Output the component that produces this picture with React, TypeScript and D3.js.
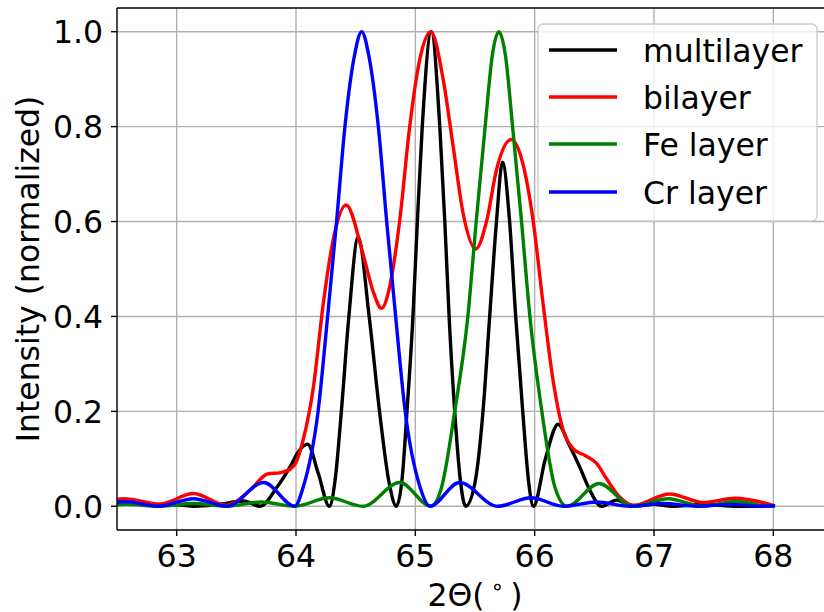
import React from "react";
import * as d3 from "d3";

const xTicks = [63, 64, 65, 66, 67, 68];
const yTicks = [0, 0.2, 0.4, 0.6, 0.8, 1.0];
const yTickLabels = ["0.0", "0.2", "0.4", "0.6", "0.8", "1.0"];
const seriesNames = ["multilayer", "bilayer", "Fe layer", "Cr layer"];
const seriesColors = ["#000000", "#ff0000", "#008000", "#0000ff"];

const multilayerX = [62.5, 62.62, 62.85, 63.0, 63.15, 63.35, 63.56, 63.7, 63.84, 63.95, 64.02, 64.097, 64.187, 64.279, 64.33, 64.38, 64.443, 64.521, 64.613, 64.7, 64.78, 64.841, 64.89, 64.93, 64.98, 65.017, 65.058, 65.134, 65.205, 65.247, 65.283, 65.33, 65.375, 65.422, 65.5, 65.567, 65.623, 65.68, 65.73, 65.79, 65.841, 65.9, 65.95, 65.99, 66.09, 66.196, 66.29, 66.377, 66.46, 66.559, 66.685, 66.82, 67.0, 67.15, 67.4, 67.7, 68.0];
const multilayerY = [0.004, 0.005, 0.001, 0.003, 0.0, 0.004, 0.011, 0.0, 0.04, 0.083, 0.115, 0.131, 0.069, 0.0, 0.06, 0.2, 0.4, 0.567, 0.4, 0.2, 0.05, 0.0, 0.06, 0.2, 0.4, 0.6, 0.8, 1.0, 0.8, 0.6, 0.4, 0.2, 0.06, 0.0, 0.05, 0.2, 0.4, 0.6, 0.725, 0.6, 0.4, 0.2, 0.05, 0.0, 0.1, 0.173, 0.129, 0.083, 0.035, 0.0, 0.013, 0.0, 0.004, 0.0, 0.004, 0.0, 0.001];

const bilayerX = [62.5, 62.56, 62.86, 63.14, 63.42, 63.62, 63.76, 63.87, 63.95, 64.0, 64.06, 64.145, 64.23, 64.31, 64.42, 64.56, 64.65, 64.716, 64.785, 64.87, 64.95, 65.036, 65.13, 65.233, 65.316, 65.4, 65.506, 65.6, 65.68, 65.805, 65.9, 65.986, 66.07, 66.154, 66.238, 66.32, 66.43, 66.517, 66.6, 66.71, 66.83, 67.13, 67.41, 67.68, 68.0];
const bilayerY = [0.015, 0.016, 0.005, 0.027, 0.002, 0.035, 0.068, 0.071, 0.078, 0.092, 0.14, 0.25, 0.43, 0.56, 0.635, 0.533, 0.45, 0.417, 0.463, 0.604, 0.794, 0.94, 1.0, 0.9, 0.76, 0.618, 0.542, 0.604, 0.709, 0.773, 0.723, 0.604, 0.428, 0.266, 0.161, 0.122, 0.106, 0.091, 0.059, 0.02, 0.002, 0.026, 0.008, 0.017, 0.002];

const feX = [62.5, 62.58, 62.85, 63.14, 63.42, 63.71, 63.99, 64.28, 64.56, 64.87, 65.13, 65.22, 65.33, 65.44, 65.51, 65.585, 65.645, 65.7, 65.755, 65.815, 65.89, 65.96, 66.06, 66.17, 66.27, 66.54, 66.82, 67.12, 67.4, 67.69, 67.97, 68.0];
const feY = [0.003, 0.004, 0.0, 0.006, 0.0, 0.009, 0.0, 0.018, 0.0, 0.05, 0.0, 0.04, 0.2, 0.4, 0.6, 0.8, 0.95, 1.0, 0.95, 0.8, 0.6, 0.4, 0.2, 0.04, 0.0, 0.048, 0.0, 0.016, 0.0, 0.01, 0.0, 0.0];

const crX = [62.5, 62.56, 62.85, 63.14, 63.42, 63.73, 63.99, 64.06, 64.185, 64.265, 64.34, 64.41, 64.49, 64.55, 64.61, 64.69, 64.76, 64.835, 64.915, 65.04, 65.122, 65.37, 65.69, 65.97, 66.24, 66.52, 66.8, 67.08, 67.36, 67.64, 67.92, 68.0];
const crY = [0.009, 0.01, 0.0, 0.016, 0.0, 0.05, 0.0, 0.04, 0.2, 0.4, 0.6, 0.8, 0.95, 1.0, 0.95, 0.8, 0.6, 0.4, 0.2, 0.04, 0.0, 0.05, 0.0, 0.018, 0.0, 0.009, 0.0, 0.006, 0.0, 0.004, 0.0, 0.001];

const seriesX = [multilayerX, bilayerX, feX, crX];
const seriesY = [multilayerY, bilayerY, feY, crY];

const FONT = "'DejaVu Sans', sans-serif";
const FS = 31.5;

export default function App() {
  const W = 824;
  const H = 612;
  const left = 117, right = 833, top = 8, bottom = 530;
  const x = d3.scaleLinear().domain([62.5, 68.5]).range([left, right]);
  const y = d3.scaleLinear().domain([-0.05, 1.05]).range([bottom, top]);
  const line = d3
    .line<[number, number]>()
    .x((d) => x(d[0]))
    .y((d) => y(d[1]))
    .curve(d3.curveMonotoneX);

  const rowY = [50, 97, 144, 192];

  return (
    <svg
      width={W}
      height={H}
      style={{ position: "absolute", left: 0, top: 0, display: "block" }}
      fontFamily={FONT}
    >
      <defs>
        <clipPath id="plotclip">
          <rect x={left} y={top} width={right - left} height={bottom - top} />
        </clipPath>
      </defs>
      <rect x={0} y={0} width={W} height={H} fill="#ffffff" />
      {xTicks.map((t) => (
        <line key={"gx" + t} x1={x(t)} x2={x(t)} y1={top} y2={bottom} stroke="#b0b0b0" strokeWidth={1.4} />
      ))}
      {yTicks.map((t) => (
        <line key={"gy" + t} x1={left} x2={right} y1={y(t)} y2={y(t)} stroke="#b0b0b0" strokeWidth={1.4} />
      ))}
      <g clipPath="url(#plotclip)">
        {seriesX.map((xs, i) => {
          const pts: [number, number][] = xs.map((v, j) => [v, seriesY[i][j]]);
          return (
            <path
              key={"s" + i}
              d={line(pts) || ""}
              fill="none"
              stroke={seriesColors[i]}
              strokeWidth={3.4}
              strokeLinejoin="round"
              strokeLinecap="square"
            />
          );
        })}
      </g>
      <line x1={left} x2={left} y1={top} y2={bottom} stroke="#000" strokeWidth={1.4} />
      <line x1={left} x2={right} y1={bottom} y2={bottom} stroke="#000" strokeWidth={1.4} />
      <line x1={left} x2={right} y1={top} y2={top} stroke="#000" strokeWidth={1.4} />
      <line x1={right} x2={right} y1={top} y2={bottom} stroke="#000" strokeWidth={1.4} />
      {xTicks.map((t) => (
        <g key={"xt" + t}>
          <line x1={x(t)} x2={x(t)} y1={bottom} y2={bottom + 6} stroke="#000" strokeWidth={1.4} />
          <text x={x(t)} y={567} textAnchor="middle" fontSize={FS} fill="#000">
            {t}
          </text>
        </g>
      ))}
      {yTicks.map((t, i) => (
        <g key={"yt" + t}>
          <line x1={left - 6} x2={left} y1={y(t)} y2={y(t)} stroke="#000" strokeWidth={1.4} />
          <text x={left - 14} y={y(t) + 11.5} textAnchor="end" fontSize={FS} fill="#000">
            {yTickLabels[i]}
          </text>
        </g>
      ))}
      <text x={(left + right) / 2} y={606} textAnchor="middle" fontSize={FS} fill="#000">
        2Θ(
        <tspan dx={6} dy={-12} fontSize={FS * 0.7}>∘</tspan>
        <tspan dx={6} dy={12}>)</tspan>
      </text>
      <text
        transform={`translate(39, ${(top + bottom) / 2}) rotate(-90)`}
        textAnchor="middle"
        fontSize={FS}
        fill="#000"
      >
        Intensity (normalized)
      </text>
      <rect x={538} y={24} width={279} height={197} rx={5} fill="#ffffff" fillOpacity={0.8} stroke="#cccccc" strokeWidth={1.4} />
      {seriesNames.map((n, i) => (
        <g key={"lg" + i}>
          <line x1={549} x2={617} y1={rowY[i]} y2={rowY[i]} stroke={seriesColors[i]} strokeWidth={3.4} />
          <text x={643} y={rowY[i] + 11.5} fontSize={FS} fill="#000">
            {n}
          </text>
        </g>
      ))}
    </svg>
  );
}
